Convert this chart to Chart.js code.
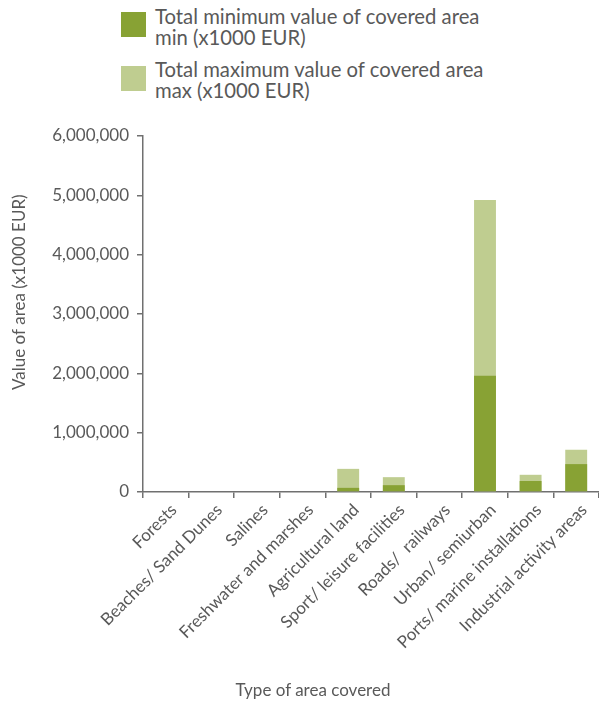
<!DOCTYPE html>
<html><head><meta charset="utf-8">
<script src="https://cdn.jsdelivr.net/npm/chart.js@4"></script>
<style>
html,body{margin:0;padding:0;background:#fff;}
body{font-family:Lato,"Liberation Sans",sans-serif;color:#595959;}
#wrap{position:relative;width:599px;height:703px;overflow:hidden;}
.leg{position:absolute;left:121px;}
.box{position:absolute;left:0;width:25px;height:25px;}
.txt{position:absolute;left:34px;width:440px;font-size:20.3px;line-height:21px;white-space:nowrap;}
#xtitle{position:absolute;top:679px;left:0;width:626px;text-align:center;font-size:17px;}
#cbox{position:absolute;left:0;top:100px;width:599px;height:603px;}
</style></head>
<body>
<div id="wrap">
  <div class="leg" style="top:0">
    <div class="box" id="b0" style="top:12px"></div>
    <div class="txt" id="t0" style="top:6px"></div>
  </div>
  <div class="leg" style="top:54px">
    <div class="box" id="b1" style="top:12px"></div>
    <div class="txt" id="t1" style="top:5px"></div>
  </div>
  <div id="cbox"><canvas id="c"></canvas></div>
  <div id="xtitle"></div>
</div>
<script>
const categories = ['Forests','Beaches/ Sand Dunes','Salines','Freshwater and marshes','Agricultural land','Sport/ leisure facilities','Roads/  railways','Urban/ semiurban','Ports/ marine installations','Industrial activity areas'];
const minValues = [0,0,0,0,70000,115000,0,1960000,185000,470000];
const maxValues = [0,0,0,0,390000,250000,0,4920000,290000,710000];
const seriesNames = ['Total minimum value of covered area min (x1000 EUR)','Total maximum value of covered area max (x1000 EUR)'];
const legendLines = [['Total minimum value of covered area','min (x1000 EUR)'],['Total maximum value of covered area','max (x1000 EUR)']];
const seriesColors = ['#88a234','#bfcd90'];
const yTitle = 'Value of area (x1000 EUR)';
const xTitle = 'Type of area covered';

for (let i=0;i<2;i++){
  document.getElementById('b'+i).style.background = seriesColors[i];
  document.getElementById('t'+i).innerHTML = legendLines[i].join('<br>');
}
document.getElementById('xtitle').textContent = xTitle;

const axisColor = '#707070';
const textColor = '#595959';
new Chart(document.getElementById('c'), {
  type:'bar',
  data:{
    labels:categories,
    datasets:[
      {label:seriesNames[0], data:minValues, backgroundColor:seriesColors[0], barPercentage:0.8, categoryPercentage:0.6},
      {label:seriesNames[1], data:maxValues, backgroundColor:seriesColors[1], barPercentage:0.8, categoryPercentage:0.6}
    ]
  },
  options:{
    responsive:true, maintainAspectRatio:false, animation:false,
    layout:{padding:{left:0,right:0,top:36,bottom:0}},
    plugins:{legend:{display:false}, tooltip:{enabled:false}},
    scales:{
      x:{
        stacked:true,
        grid:{display:true, drawOnChartArea:false, drawTicks:true, tickLength:6, color:axisColor, lineWidth:1.5, offset:true},
        border:{display:true,color:axisColor,width:1.5},
        ticks:{color:textColor, font:{family:'Lato', size:17}, maxRotation:45, minRotation:45, autoSkip:false, padding:2, labelOffset:8},
        afterFit:(s)=>{ s.height = 211; }
      },
      y:{
        stacked:false,
        min:0, max:6000000,
        ticks:{stepSize:1000000, color:textColor, font:{family:'Lato', size:17}, padding:8,
          callback:(v)=>Number(v).toLocaleString('en-US')},
        grid:{display:true, drawOnChartArea:false, drawTicks:true, tickLength:6, color:axisColor, lineWidth:1.5},
        border:{display:true,color:axisColor,width:1.5},
        title:{display:true, text:'          ' + yTitle, color:textColor, font:{family:'Lato', size:17}, padding:{top:9,bottom:0}},
        afterFit:(s)=>{ s.width = 143; }
      }
    }
  }
});
</script>
</body></html>
